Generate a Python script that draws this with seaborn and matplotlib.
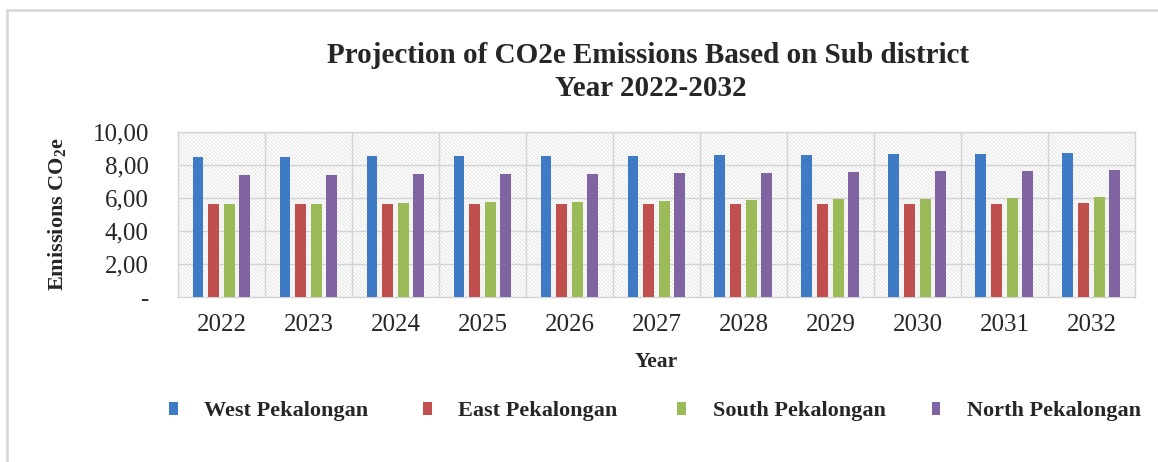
import matplotlib
matplotlib.use("Agg")
import matplotlib.pyplot as plt
from matplotlib.patches import Patch, Rectangle
from matplotlib.lines import Line2D
import seaborn as sns
import pandas as pd

# Projected CO2e emissions per sub district
years = ["2022", "2023", "2024", "2025", "2026", "2027", "2028", "2029", "2030", "2031", "2032"]
west = [8.48, 8.49, 8.50, 8.51, 8.53, 8.55, 8.57, 8.59, 8.62, 8.65, 8.69]
east = [5.60, 5.60, 5.61, 5.61, 5.62, 5.62, 5.63, 5.63, 5.64, 5.65, 5.66]
south = [5.60, 5.64, 5.68, 5.72, 5.77, 5.81, 5.86, 5.90, 5.95, 6.00, 6.06]
north = [7.37, 7.39, 7.42, 7.44, 7.47, 7.50, 7.53, 7.56, 7.60, 7.64, 7.68]
districts = ["West Pekalongan", "East Pekalongan", "South Pekalongan", "North Pekalongan"]
colors = ["#3F7BC4", "#C0504D", "#9BBB59", "#8064A2"]
y_ticks = [0, 2, 4, 6, 8, 10]
y_tick_labels = ["-", "2,00", "4,00", "6,00", "8,00", "10,00"]

series = [west, east, south, north]
df = pd.DataFrame(
    [(y, d, v) for d, vals in zip(districts, series) for y, v in zip(years, vals)],
    columns=["Year", "District", "Emission"],
)

sns.set_theme(style="white")
plt.rcParams["font.family"] = ["Liberation Serif", "DejaVu Serif"]
plt.rcParams["mathtext.fontset"] = "custom"
plt.rcParams["mathtext.rm"] = "Liberation Serif"
plt.rcParams["mathtext.bf"] = "Liberation Serif:bold"
plt.rcParams["hatch.color"] = "#E4E4E4"
plt.rcParams["hatch.linewidth"] = 0.7

fig = plt.figure(figsize=(11.58, 4.62), dpi=100)
ax = fig.add_axes([0.1537, 0.357, 0.8264, 0.358])

# hatched plot background
ax.add_patch(Rectangle((0, 0), 1, 1, transform=ax.transAxes, facecolor="white",
                       edgecolor="#E4E4E4", linewidth=0, hatch="\\" * 9, zorder=0))

sns.barplot(data=df, x="Year", y="Emission", hue="District", palette=colors,
            hue_order=districts, order=years, width=0.72, gap=0.3,
            linewidth=0, saturation=1, legend=False, ax=ax, zorder=3)

ax.set_xlim(-0.5, len(years) - 0.5)
ax.set_ylim(0, 10)
ax.set_yticks(y_ticks)
ax.set_yticklabels(y_tick_labels)
for v in y_ticks[1:]:
    ax.axhline(v, color="#D3D3D3", linewidth=1.0, zorder=1)
for i in range(1, len(years)):
    ax.axvline(i - 0.5, color="#D3D3D3", linewidth=1.0, zorder=1)

for s in ax.spines.values():
    s.set_color("#D3D3D3")
    s.set_linewidth(1.0)
ax.tick_params(axis="y", length=0, pad=21, labelsize=18, labelcolor="#262626")
ax.tick_params(axis="x", length=0, pad=12, labelsize=18, labelcolor="#262626")

ax.set_xlabel("Year", fontsize=15.5, fontweight="bold", labelpad=12)
ax.set_ylabel(r"Emissions CO$_\mathbf{2}$e", fontsize=16, fontweight="bold", labelpad=17)

fig.text(0.560, 0.880, "Projection of CO2e Emissions Based on Sub district",
         ha="center", va="center", fontsize=21, fontweight="bold")
fig.text(0.562, 0.808, "Year 2022-2032",
         ha="center", va="center", fontsize=21, fontweight="bold")

# legend entries laid out in evenly spaced columns
for i, (name, col) in enumerate(zip(districts, colors)):
    fig.legend(handles=[Patch(facecolor=col, edgecolor="none")], labels=[name],
               loc="center left", bbox_to_anchor=(0.146 + i * 0.2195, 0.110),
               frameon=False, handlelength=0.38, handleheight=0.5,
               handletextpad=1.2, borderpad=0, borderaxespad=0,
               prop={"size": 16, "weight": "bold"})

# light frame round the figure
fig.add_artist(Line2D([0.006, 0.006], [0, 0.978], color="#D9D9D9", linewidth=2))
fig.add_artist(Line2D([0.006, 1.0], [0.978, 0.978], color="#D9D9D9", linewidth=2))

fig.savefig("out.png", dpi=100)
